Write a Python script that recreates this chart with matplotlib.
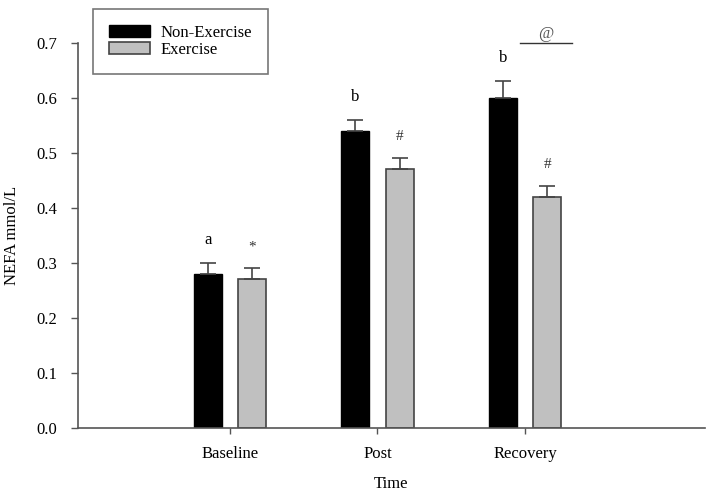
import numpy as np
import matplotlib
matplotlib.use('Agg')
import matplotlib.pyplot as plt

# Data
groups = ['Baseline', 'Post', 'Recovery']
non_exercise = [0.28, 0.54, 0.60]
non_exercise_err = [0.02, 0.02, 0.03]
exercise = [0.27, 0.47, 0.42]
exercise_err = [0.02, 0.02, 0.02]
non_ex_marks = ['a', 'b', 'b']
ex_marks = ['*', '#', '#']

plt.rcParams['font.family'] = ['Liberation Serif', 'DejaVu Serif']

fig = plt.figure(figsize=(7.17, 4.98), dpi=100)
ax = fig.add_axes([0.109, 0.1406, 0.874, 0.7731])

x = np.arange(len(groups))
w = 0.19
off = 0.15
edge = '#444444'

ax.bar(x - off, non_exercise, w, color='black', edgecolor='black',
       linewidth=1.0, label='Non-Exercise', zorder=2)
ax.bar(x + off, exercise, w, color='#c0c0c0', edgecolor=edge,
       linewidth=1.2, label='Exercise', zorder=2)

# upper-only error bars
ax.errorbar(x - off, non_exercise, yerr=[np.zeros(3), non_exercise_err],
            fmt='none', ecolor=edge, elinewidth=1.2, capsize=6, capthick=1.2, zorder=3)
ax.errorbar(x + off, exercise, yerr=[np.zeros(3), exercise_err],
            fmt='none', ecolor=edge, elinewidth=1.2, capsize=6, capthick=1.2, zorder=3)

# significance letters
for i in range(len(groups)):
    top = non_exercise[i] + non_exercise_err[i]
    ax.text(x[i] - off, top + 0.028, non_ex_marks[i], ha='center', va='bottom',
            fontsize=12, color='black')
    top = exercise[i] + exercise_err[i]
    ax.text(x[i] + off, top + 0.028, ex_marks[i], ha='center', va='bottom',
            fontsize=11, color='#333333')

# bracket with '@' over Recovery
ax.plot([x[2] - 0.03, x[2] + 0.32], [0.70, 0.70], color='#333333', lw=1.0,
        clip_on=False)
ax.text(x[2] + 0.14, 0.701, '@', ha='center', va='bottom', fontsize=12,
        color='#555555', clip_on=False)

ax.set_xlim(-1.03, 3.22)
ax.set_ylim(0, 0.7)
ax.set_yticks(np.arange(0, 0.71, 0.1))
ax.set_yticklabels([f'{v:.1f}' for v in np.arange(0, 0.71, 0.1)])
ax.set_xticks(x)
ax.set_xticklabels(groups)

for s in ['top', 'right']:
    ax.spines[s].set_visible(False)
for s in ['left', 'bottom']:
    ax.spines[s].set_color('#555555')
    ax.spines[s].set_linewidth(1.2)
ax.tick_params(axis='both', colors='#555555', labelcolor='black', labelsize=12,
               width=1.0, length=5)
ax.tick_params(axis='x', length=4, pad=9)
ax.tick_params(axis='y', pad=10)

ax.set_xlabel('Time', fontsize=12, labelpad=10)
ax.set_ylabel('NEFA mmol/L', fontsize=12, labelpad=12)

leg = ax.legend(loc='upper left', bbox_to_anchor=(0.024, 1.088), fontsize=12,
                frameon=True, fancybox=False, edgecolor='#555555',
                handlelength=2.45, handleheight=0.7, borderpad=0.95,
                labelspacing=0.05, handletextpad=0.65, borderaxespad=0)
leg.get_frame().set_linewidth(1.2)

fig.savefig('out.png', dpi=100, facecolor='white')
